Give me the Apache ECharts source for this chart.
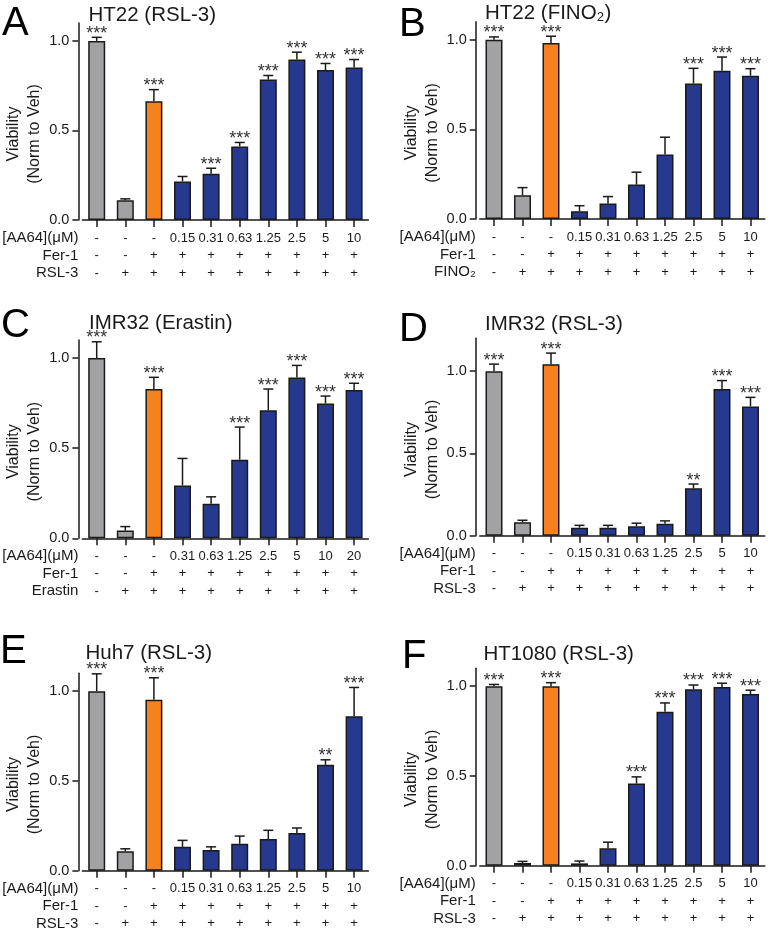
<!DOCTYPE html>
<html><head><meta charset="utf-8">
<script src="https://cdn.jsdelivr.net/npm/echarts@6/dist/echarts.min.js"></script>
<style>html,body{margin:0;padding:0;background:#fff}#c{width:773px;height:930px}</style>
</head><body><div id="c"></div><script>
// ---------- data ----------
const panelLetters = ['A','B','C','D','E','F'];
const panelTitles = ['HT22 (RSL-3)','HT22 (FINO₂)','IMR32 (Erastin)','IMR32 (RSL-3)','Huh7 (RSL-3)','HT1080 (RSL-3)'];
const inducerNames = ['RSL-3','FINO₂','Erastin','RSL-3','RSL-3','RSL-3'];
const doseRowLabel = '[AA64](μM)';
const ferRowLabel = 'Fer-1';
const yAxisTitle = 'Viability\n(Norm to Veh)';
const dosesStd = ['-','-','-','0.15','0.31','0.63','1.25','2.5','5','10'];
const dosesErastin = ['-','-','-','0.31','0.63','1.25','2.5','5','10','20'];
const ferRow = ['-','-','+','+','+','+','+','+','+','+'];
const inducerRow = ['-','+','+','+','+','+','+','+','+','+'];
const yMax = [1.1, 1.1, 1.1, 1.2, 1.1, 1.1];
const yTicks = [0, 0.5, 1.0];

const meanA = [1.00,0.110,0.663,0.215,0.258,0.411,0.784,0.896,0.837,0.852];
const errA  = [0.020,0.008,0.065,0.028,0.031,0.022,0.023,0.041,0.037,0.044];
const starsA = ['***','','***','','***','***','***','***','***','***'];

const meanB = [1.00,0.132,0.981,0.043,0.086,0.192,0.359,0.756,0.827,0.799];
const errB  = [0.015,0.043,0.038,0.031,0.039,0.069,0.097,0.084,0.076,0.039];
const starsB = ['***','','***','','','','','***','***','***'];

const meanC = [1.00,0.043,0.828,0.293,0.191,0.436,0.710,0.892,0.748,0.822];
const errC  = [0.090,0.022,0.065,0.150,0.039,0.181,0.118,0.067,0.041,0.038];
const starsC = ['***','','***','','','***','***','***','***','***'];

const meanD = [1.00,0.082,1.043,0.049,0.049,0.057,0.073,0.288,0.892,0.786];
const errD  = [0.043,0.012,0.067,0.014,0.014,0.019,0.017,0.026,0.051,0.055];
const starsD = ['***','','***','','','','','**','***','***'];

const meanE = [1.00,0.109,0.953,0.133,0.116,0.150,0.176,0.210,0.590,0.861];
const errE  = [0.097,0.013,0.122,0.036,0.017,0.043,0.049,0.028,0.028,0.160];
const starsE = ['***','','***','','','','','','**','***'];

const meanF = [1.00,0.015,1.00,0.013,0.097,0.458,0.858,0.983,0.996,0.957];
const errF  = [0.010,0.009,0.020,0.013,0.034,0.037,0.049,0.024,0.021,0.021];
const starsF = ['***','','***','','','***','***','***','***','***'];

// ---------- styling / layout ----------
const panels = [
  {mean: meanA, err: errA, stars: starsA, doses: dosesStd},
  {mean: meanB, err: errB, stars: starsB, doses: dosesStd},
  {mean: meanC, err: errC, stars: starsC, doses: dosesErastin},
  {mean: meanD, err: errD, stars: starsD, doses: dosesStd},
  {mean: meanE, err: errE, stars: starsE, doses: dosesStd},
  {mean: meanF, err: errF, stars: starsF, doses: dosesStd}
];
const FONT = 'Liberation Sans, Arial, Helvetica, sans-serif';
const INK = '#1a1a1a';
const GRAY = '#a2a2a4', ORANGE = '#f6821f', BLUE = '#26398e';
const colLeft = [82.4, 479.75], colWidth = [286, 285];
const gridTop = [23, 21.7, 340, 338.3, 673.3, 668.3];
const gridH = [197, 197.3, 198.3, 197.4, 197.4, 197.4];
const letterPos = [[2,24],[399,25],[1,325.5],[399,329.5],[0,652],[402,657]];
const titlePos = [[88.5,15],[485,13.5],[89,323],[485,324],[85.5,653],[483.5,654]];
const rowOffsets = [18, 35.5, 53];

function colorFor(i){ return i < 2 ? GRAY : (i === 2 ? ORANGE : BLUE); }

const grid = [], xAxis = [], yAxis = [], series = [], graphic = [];
panels.forEach((p, k) => {
  const col = k % 2;
  grid.push({left: colLeft[col], width: colWidth[col], top: gridTop[k], height: gridH[k], containLabel: false, outerBoundsMode: 'none'});
  const base = xAxis.length;
  xAxis.push({gridIndex: k, type: 'category', data: p.doses.map((d, i) => String(i)), position: 'bottom',
    axisLine: {show: true, lineStyle: {color: INK, width: 1.5}},
    axisTick: {show: true, alignWithLabel: true, interval: 0, length: 7, lineStyle: {color: INK, width: 1.5}},
    axisLabel: {show: false}, splitLine: {show: false}});
  const rows = [
    {data: p.doses, name: doseRowLabel},
    {data: ferRow, name: ferRowLabel},
    {data: inducerRow, name: inducerNames[k]}
  ];
  rows.forEach((r, j) => {
    xAxis.push({gridIndex: k, type: 'category', data: r.data, position: 'bottom', offset: rowOffsets[j],
      axisLine: {show: false}, axisTick: {show: false}, splitLine: {show: false},
      axisLabel: {show: true, interval: 0, margin: 0, verticalAlign: 'middle', fontSize: 13, color: INK, fontFamily: FONT},
      name: r.name, nameLocation: 'start', nameGap: 4,
      nameTextStyle: {fontSize: 15, color: INK, fontFamily: FONT, align: 'right', verticalAlign: 'middle'}});
  });
  yAxis.push({gridIndex: k, type: 'value', min: 0, max: yMax[k], offset: 4,
    axisLine: {show: true, lineStyle: {color: INK, width: 1.5}},
    axisTick: {show: true, length: 6, customValues: yTicks, lineStyle: {color: INK, width: 1.5}},
    axisLabel: {show: true, customValues: yTicks, formatter: v => Number(v).toFixed(1), margin: 9, fontSize: 14.5, color: INK, fontFamily: FONT},
    splitLine: {show: false},
    name: yAxisTitle, nameLocation: 'middle', nameRotate: 90, nameGap: 31,
    nameTextStyle: {fontSize: 16, lineHeight: 21, color: INK, fontFamily: FONT, padding: [0, 25, 0, 0]}});
  series.push({type: 'bar', xAxisIndex: base, yAxisIndex: k, barWidth: 17, z: 2,
    data: p.mean.map((m, i) => ({value: m, itemStyle: {color: colorFor(i)}})),
    itemStyle: {borderColor: INK, borderWidth: 1.5}, silent: true, animation: false});
  series.push({type: 'custom', xAxisIndex: base, yAxisIndex: k, z: 5, silent: true, animation: false,
    data: p.mean.map((m, i) => [i, m, p.err[i]]),
    renderItem: (params, api) => {
      const i = api.value(0), m = api.value(1), e = api.value(2);
      const p0 = api.coord([i, m]), p1 = api.coord([i, m + e]);
      const st = p.stars[params.dataIndex];
      return {type: 'group', children: [
        {type: 'line', shape: {x1: p0[0], y1: p0[1], x2: p1[0], y2: p1[1]}, style: {stroke: INK, lineWidth: 1.5}},
        {type: 'line', shape: {x1: p1[0] - 5, y1: p1[1], x2: p1[0] + 5, y2: p1[1]}, style: {stroke: INK, lineWidth: 1.5}},
        {type: 'text', x: p1[0], y: p1[1] - 3.5, style: {text: st, textAlign: 'center', textVerticalAlign: 'middle', verticalAlign: 'middle', align: 'center', font: '18px ' + FONT, fill: '#333'}}
      ]};
    }});
  graphic.push({type: 'text', x: letterPos[k][0], y: letterPos[k][1], style: {text: panelLetters[k], font: '40px ' + FONT, fill: '#000', textVerticalAlign: 'middle', verticalAlign: 'middle'}});
  graphic.push({type: 'text', x: titlePos[k][0], y: titlePos[k][1], style: {text: panelTitles[k], font: '20.5px ' + FONT, fill: INK, textVerticalAlign: 'middle', verticalAlign: 'middle'}});
});

const chart = echarts.init(document.getElementById('c'), null, {renderer: 'canvas'});
chart.setOption({backgroundColor: '#fff', animation: false, textStyle: {fontFamily: FONT}, grid, xAxis, yAxis, series, graphic});
</script></body></html>
